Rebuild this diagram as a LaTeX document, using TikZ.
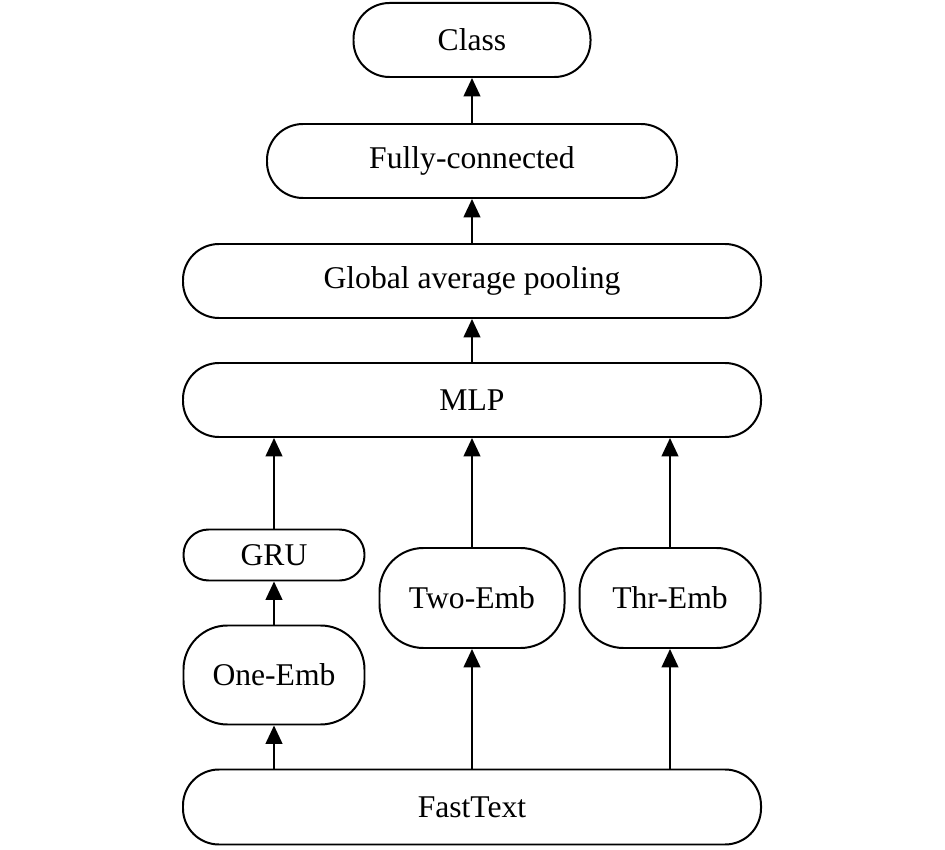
\documentclass[tikz,border=0pt]{standalone}
\usepackage{fontspec}
\setmainfont{Liberation Serif}
\usetikzlibrary{arrows.meta}

\tikzstyle{blockdecorate}=[shape=rectangle,draw,line width=1.7pt,inner sep=0pt,font=\fontsize{27}{32}\selectfont]
\tikzstyle{flowdecorate}=[-{Triangle[length=0.55cm,width=0.5cm]},line width=1.7pt]

\begin{document}
\begin{tikzpicture}[x=0.03cm,y=-0.03cm]
      \useasboundingbox (0,0) rectangle (945,850);

      \foreach \nodename/\x/\y/\w/\h/\r/\label in {class/472/40/237/74/36/Class,
        fc/472/161/410/74/36/Fully-connected, gap/472/281/578/74/36/Global average pooling,
        mlp/472/400/578/74/36/MLP, gru/274/555/181/51/25/GRU, onee/274/675/181/99/44/One-Emb,
        twoe/472/598/185/100/44/Two-Emb, thre/670/598/181/100/44/Thr-Emb, fast/472/807/578/75/36/FastText}
      {
        \node (\nodename) at (\x,\y) [blockdecorate,rounded corners=\r*0.03cm,
          minimum width=\w*0.03cm,minimum height=\h*0.03cm] {\label};
      }
      %% arrows between layers
      \foreach \startnode/\endnode in {fc/class, gap/fc, mlp/gap, onee/gru}
      {
        \draw[flowdecorate] (\startnode.north) -- (\endnode.south);
      }
      \foreach \startnode in {gru, twoe, thre}
      {
        \draw[flowdecorate] (\startnode.north) -- (\startnode.north |- mlp.south);
      }
      \foreach \endnode in {onee, twoe, thre}
      {
        \draw[flowdecorate] (\endnode.south |- fast.north) -- (\endnode.south);
      }
    \end{tikzpicture}
\end{document}
